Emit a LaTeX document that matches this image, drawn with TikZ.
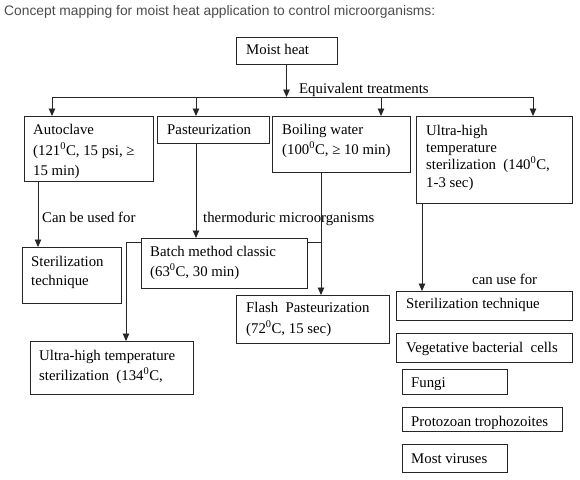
\documentclass[tikz,border=0pt]{standalone}
\usepackage{fontspec}
\setmainfont{Liberation Serif}
\newfontfamily\titlefont{Liberation Sans}
\usetikzlibrary{arrows.meta,calc}
\begin{document}
\begin{tikzpicture}[x=1pt,y=-1pt,
  box/.style={draw=black!85, line width=0.9pt, fill=white, inner sep=0pt, outer sep=0pt, anchor=north west},
  tx/.style={anchor=base west, inner sep=0pt, font=\fontsize{14.8}{18}\selectfont},
  arr/.style={line width=0.9pt, draw=black!85, -{Triangle[width=6.5pt,length=7.5pt]}},
  ln/.style={line width=0.9pt, draw=black!85}]
\useasboundingbox[fill=white] (0,0) rectangle (580,479);
% title
\node[anchor=base west, inner sep=0pt, font=\titlefont\fontsize{13.8}{16}\selectfont, text=black!70] (title) at (4,15) {Concept mapping for moist heat application to control microorganisms:};
% boxes
\node[box, minimum width=101pt, minimum height=27pt] (moist) at (236,37) {};
\node[box, minimum width=129pt, minimum height=65pt] (auto) at (24,116) {};
\node[box, minimum width=112pt, minimum height=27pt] (past) at (157,116) {};
\node[box, minimum width=138pt, minimum height=56pt] (boil) at (272,116) {};
\node[box, minimum width=156pt, minimum height=87pt] (uht) at (416,116) {};
\node[box, minimum width=99pt, minimum height=56pt] (sterL) at (22,247) {};
\node[box, minimum width=153pt, minimum height=48pt] (flash) at (236,295) {};
\node[box, minimum width=163pt, minimum height=53pt] (uhtb) at (30,341) {};
\node[box, minimum width=176pt, minimum height=29pt] (sterR) at (396,291) {};
\node[box, minimum width=176pt, minimum height=29pt] (veg) at (396,333) {};
\node[box, minimum width=105pt, minimum height=25pt] (fungi) at (402,369) {};
\node[box, minimum width=160pt, minimum height=24pt] (proto) at (402,407) {};
\node[box, minimum width=105pt, minimum height=28pt] (virus) at (402,444) {};
% hub connectors
\coordinate (hubL) at (52,97);
\coordinate (hubR) at (533,97);
\coordinate (hP) at (196,97);
\coordinate (hB) at (381,97);
\draw[arr] (moist.south) -- (moist.south |- hubL);
\draw[ln] (hubL) -- (hubR);
\draw[arr] (hubL) -- (hubL |- auto.north);
\draw[arr] (hP) -- (hP |- past.north);
\draw[arr] (hB) -- (hB |- boil.north);
\draw[arr] (hubR) -- (hubR |- uht.north);
% lower connectors
\draw[arr] ([xshift=14pt]auto.south west) -- ([xshift=16pt]sterL.north west);
\draw[arr] ([xshift=49pt]boil.south west) -- ([xshift=85pt]flash.north west);
\coordinate (br) at (321,242);
\draw[arr] (br) -| ([xshift=96pt]uhtb.north west);
\draw[arr] ([xshift=6pt]uht.south west) -- ([xshift=26pt]sterR.north west);
% batch box drawn over the branch line
\node[box, minimum width=166pt, minimum height=50pt] (batch) at (141,238) {};
\draw[arr] ([xshift=39pt]past.south west) -- ([xshift=55pt]batch.north west);
% texts
\node[tx] (tMoist) at (246,54) {Moist heat};
\node[tx] (tEq) at (299,93) {Equivalent treatments};
\node[tx] (tAuto1) at (33,134) {Autoclave};
\node[tx] (tAuto2) at (33,155) {(121\textsuperscript{0}C, 15 psi, ≥};
\node[tx] (tAuto3) at (33,175) {15 min)};
\node[tx] (tPast) at (167,134) {Pasteurization};
\node[tx] (tBoil1) at (282,134) {Boiling water};
\node[tx] (tBoil2) at (282,154) {(100\textsuperscript{0}C, ≥ 10 min)};
\node[tx] (tUht1) at (426,135) {Ultra-high};
\node[tx] (tUht2) at (426,152) {temperature};
\node[tx] (tUht3) at (426,169) {sterilization \ (140\textsuperscript{0}C,};
\node[tx] (tUht4) at (426,187) {1-3 sec)};
\node[tx] (tCan) at (42,222) {Can be used for};
\node[tx] (tTherm) at (203,222) {thermoduric microorganisms};
\node[tx] (tSterL1) at (31,266) {Sterilization};
\node[tx] (tSterL2) at (31,285) {technique};
\node[tx] (tBatch1) at (150,256) {Batch method classic};
\node[tx] (tBatch2) at (150,276) {(63\textsuperscript{0}C, 30 min)};
\node[tx] (tCanUse) at (472,284) {can use for};
\node[tx] (tFlash1) at (246,312) {Flash \ Pasteurization};
\node[tx] (tFlash2) at (246,333) {(72\textsuperscript{0}C, 15 sec)};
\node[tx] (tUhtb1) at (39,360) {Ultra-high temperature};
\node[tx] (tUhtb2) at (39,380) {sterilization \ (134\textsuperscript{0}C,};
\node[tx] (tSterR) at (406,308) {Sterilization technique};
\node[tx] (tVeg) at (406,352) {Vegetative bacterial \ cells};
\begin{scope}
\clip (fungi.north west) rectangle ([yshift=4.5pt]fungi.south east);
\node[tx] (tFungi) at (411,387) {Fungi};
\end{scope}
\begin{scope}
\clip (proto.north west) rectangle ([yshift=3pt]proto.south east);
\node[tx] (tProto) at (411,426) {Protozoan trophozoites};
\end{scope}
\node[tx] (tVirus) at (411,463) {Most viruses};
\end{tikzpicture}
\end{document}
